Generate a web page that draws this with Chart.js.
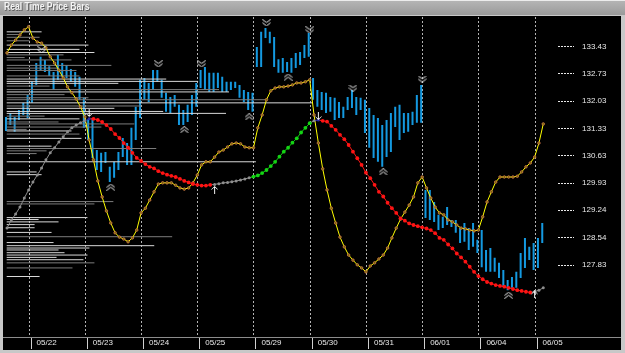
<!DOCTYPE html>
<html>
<head>
<meta charset="utf-8">
<script src="https://cdn.jsdelivr.net/npm/chart.js@4.4.1/dist/chart.umd.min.js"></script>
<style>
    html, body { margin: 0; padding: 0; background: #c4c4c4; }
    #wrap { position: relative; width: 625px; height: 353px; overflow: hidden; }
    #priceChart { display: block; }
    #title {
        position: absolute; left: 4px; top: 1px; height: 14px; line-height: 14px;
        font: bold 10px "Liberation Sans", Arial, sans-serif;
        color: #f4f4f4; text-shadow: 1px 1px 0 #5a5a5a; white-space: nowrap;
        transform: scaleX(0.86); transform-origin: left center;
    }
</style>
</head>
<body>
<div id="wrap">
    <canvas id="priceChart" width="625" height="353"></canvas>
    <div id="title">Real Time Price Bars</div>
</div>
<script>
// ---- data (bar index 0 = first bar of 05/22) ----
var firstBar = -5;

var dayLabels = ['05/22', '05/23', '05/24', '05/25', '05/29', '05/30', '05/31', '06/01', '06/04', '06/05'];
var dayStartBar = [0, 13, 26, 39, 52, 65, 78, 91, 104, 117];

var yTickValues = [133.43, 132.73, 132.03, 131.33, 130.63, 129.93, 129.24, 128.54, 127.83];
var yTickLabels = ['133.43', '132.73', '132.03', '131.33', '130.63', '129.93', '129.24', '128.54', '127.83'];

var barHigh = [
    131.63, 131.73, 131.63, 131.81, 131.99,
    132.19, 132.53, 133.01, 133.17, 133.09, 132.93, 132.78, 133.22, 133.01, 132.96, 132.86, 132.78, 132.66,
    132.12, 131.55, 131.60, 130.78, 130.71, 130.73, 130.35, 130.48, 130.73, 131.09, 130.96, 131.35, 131.89,
    132.58, 132.63, 132.50, 132.83, 132.83, 132.58, 132.25, 132.14, 132.19, 131.94, 131.81, 131.94, 132.19,
    132.50, 132.83, 132.91, 132.76, 132.76, 132.76, 132.66, 132.53, 132.53, 132.53, 132.45, 132.32, 132.27,
    132.25, 133.42, 133.81, 133.91, 133.81, 133.68, 133.11, 133.14, 133.04, 133.14, 133.27, 133.29, 133.47,
    133.78, 132.63, 132.32, 132.27, 132.25, 132.14, 132.12, 132.01, 131.89, 132.14, 132.32, 132.14, 132.12,
    132.07, 131.86, 131.68, 131.60, 131.42, 131.55, 131.73, 131.89, 131.94, 131.73, 131.73, 131.76, 132.19,
    132.45, 129.76, 129.76, 129.45, 129.12, 129.07, 129.32, 128.99, 128.99, 128.78, 128.91, 128.78, 128.91,
    128.48, 128.73, 128.22, 128.27, 128.02, 127.89, 127.71, 127.45, 127.53, 127.66, 128.14, 128.53, 128.30,
    128.40, 128.53, 128.91
];
var barLow = [
    131.27, 131.42, 131.25, 131.55, 131.68,
    131.60, 131.99, 132.45, 132.83, 132.78, 132.68, 132.32, 132.58, 132.66, 132.63, 132.53, 132.40, 132.07,
    131.35, 131.04, 130.58, 130.27, 130.22, 130.45, 129.96, 130.07, 130.27, 130.60, 130.40, 130.40, 131.04,
    131.60, 132.07, 132.01, 132.32, 132.53, 132.12, 131.76, 131.73, 131.89, 131.42, 131.42, 131.50, 131.68,
    131.89, 132.37, 132.32, 132.27, 132.27, 132.37, 132.27, 132.27, 132.32, 132.37, 132.12, 132.01, 131.81,
    131.76, 132.91, 132.91, 133.65, 133.52, 132.91, 132.76, 132.76, 132.78, 132.76, 132.88, 132.96, 133.14,
    133.17, 132.07, 131.89, 131.81, 131.73, 131.76, 131.55, 131.60, 131.60, 131.81, 131.86, 131.68, 131.81,
    131.22, 130.84, 130.58, 130.48, 130.35, 130.60, 130.73, 131.37, 131.04, 131.22, 131.25, 131.42, 131.48,
    131.48, 129.04, 128.99, 128.94, 128.73, 128.78, 128.86, 128.81, 128.66, 128.40, 128.43, 128.22, 128.30,
    128.14, 127.78, 127.66, 127.66, 127.66, 127.50, 127.27, 127.19, 127.25, 127.25, 127.50, 127.76, 127.96,
    127.71, 127.76, 128.40
];

// yellow oscillator line
var yellowLine = [
    133.27, 133.47, 133.60, 133.73, 133.86,
    133.94, 133.65, 133.55, 133.52, 133.40, 133.17, 133.01, 132.83, 132.63, 132.40, 132.25, 132.09, 131.89,
    131.63, 131.04, 130.53, 129.99, 129.58, 129.22, 128.91, 128.66, 128.55, 128.50, 128.43, 128.53, 128.73,
    129.17, 129.29, 129.50, 129.71, 129.91, 129.94, 129.94, 129.94, 129.88, 129.81, 129.78, 129.81, 129.94,
    130.14, 130.40, 130.48, 130.48, 130.60, 130.73, 130.78, 130.86, 130.94, 130.96, 130.94, 130.86, 130.84,
    130.84, 131.35, 131.68, 132.07, 132.30, 132.37, 132.40, 132.40, 132.42, 132.45, 132.50, 132.50, 132.53,
    132.58, 131.68, 130.96, 130.30, 129.76, 129.29, 128.91, 128.55, 128.30, 128.09, 127.96, 127.84, 127.76,
    127.66, 127.81, 127.89, 127.99, 128.09, 128.27, 128.53, 128.78, 129.01, 129.19, 129.37, 129.58, 129.94,
    130.09, 129.81, 129.55, 129.32, 129.17, 129.12, 128.99, 128.94, 128.86, 128.78, 128.76, 128.73, 128.71,
    128.73, 129.07, 129.45, 129.71, 129.96, 130.09, 130.09, 130.09, 130.09, 130.11, 130.22, 130.35, 130.45,
    130.60, 130.96, 131.45
];

// dotted trend line and where its direction changes
var trendLine = [
    128.78, 128.99, 129.14, 129.32, 129.55,
    129.76, 129.96, 130.14, 130.32, 130.53, 130.71, 130.84, 130.99, 131.12, 131.25, 131.35, 131.42, 131.48,
    131.53, 131.58, 131.58, 131.55, 131.50, 131.42, 131.32, 131.19, 131.09, 130.96, 130.84, 130.71, 130.58,
    130.50, 130.42, 130.35, 130.31, 130.24, 130.19, 130.15, 130.12, 130.09, 130.04, 129.99, 129.95, 129.91,
    129.89, 129.87, 129.87, 129.89, 129.90, 129.92, 129.94, 129.95, 129.97, 129.99, 130.01, 130.04, 130.07,
    130.10, 130.13, 130.19, 130.27, 130.37, 130.48, 130.61, 130.74, 130.84, 130.97, 131.08, 131.23, 131.35,
    131.47, 131.53, 131.55, 131.53, 131.51, 131.40, 131.30, 131.17, 131.06, 130.91, 130.74, 130.57, 130.40,
    130.20, 130.06, 129.89, 129.71, 129.59, 129.43, 129.29, 129.17, 129.03, 128.97, 128.90, 128.86, 128.83,
    128.80, 128.77, 128.73, 128.65, 128.53, 128.48, 128.36, 128.26, 128.13, 128.03, 127.92, 127.79, 127.66,
    127.55, 127.47, 127.40, 127.36, 127.32, 127.30, 127.28, 127.25, 127.22, 127.19, 127.17, 127.15, 127.13,
    127.15, 127.19, 127.25
];
var trendTurnBar = [-5, 15, 43, 52, 66, 68, 117];
var trendTurnDir = ['flat', 'down', 'flat', 'up', 'flat', 'down', 'flat'];
var trendPivotBar = [14, 67];

// fractal chevrons and signal arrows
var fractalHighBar = [3, 30, 40, 55, 65, 75, 91];
var fractalHighPrice = [133.35, 132.99, 132.99, 134.04, 133.86, 132.37, 132.60];
var fractalLowBar = [19, 36, 51, 60, 82, 111];
var fractalLowPrice = [129.83, 131.30, 131.63, 132.65, 130.22, 127.06];
var arrowDownBar = [14, 67];
var arrowDownPrice = [131.73, 131.65];
var arrowUpBar = [43, 117];
var arrowUpPrice = [129.76, 127.08];

// volume profile at the left (price level, volume)
var profileLightPrice = [133.81, 133.47, 133.36, 133.28, 132.60, 132.54, 132.49, 132.27, 131.99, 131.85,
    131.77, 131.72, 131.58, 131.27, 131.08, 130.88, 130.48, 130.22, 130.15, 129.05,
    129.00, 128.94, 128.87, 128.79, 128.67, 128.41, 128.33, 128.27, 128.22, 128.15,
    128.09, 128.03, 127.97, 127.54];
var profileLightVolume = [35, 82, 73, 88, 160, 192, 112, 223, 307, 108,
    157, 220, 73, 65, 75, 45, 250, 30, 35, 81,
    32, 52, 28, 28, 45, 47, 148, 83, 52, 58,
    81, 50, 77, 33];
var profileDarkPrice = [133.74, 133.67, 133.58, 133.22, 133.15, 133.09, 132.95, 132.88, 132.82, 132.68,
    132.42, 132.33, 132.20, 132.12, 132.07, 131.91, 131.65, 131.50, 131.45, 131.37,
    131.31, 131.19, 130.82, 130.76, 130.69, 129.46, 129.40, 128.56, 127.89, 127.76];
var profileDarkVolume = [12, 33, 23, 57, 18, 65, 105, 52, 70, 73,
    43, 213, 58, 82, 260, 135, 38, 52, 128, 95,
    20, 73, 150, 40, 30, 107, 88, 166, 88, 66];

// ---- helpers ----
function trendDirAt(bar) {
    var dir = trendTurnDir[0];
    for (var k = 0; k < trendTurnBar.length; k++) {
        if (trendTurnBar[k] <= bar) dir = trendTurnDir[k];
    }
    return dir;
}

function trendColor(bar) {
    if (trendPivotBar.indexOf(bar) !== -1) return '#2a2aa8';
    var d = trendDirAt(bar);
    if (d === 'down') return '#ff1414';
    if (d === 'up') return '#14d414';
    return '#8e8e8e';
}

function seriesPoints(values) {
    var pts = [];
    for (var k = 0; k < values.length; k++) {
        pts.push({ x: firstBar + k, y: values[k] });
    }
    return pts;
}

function barPoints() {
    var pts = [];
    for (var k = 0; k < barHigh.length; k++) {
        pts.push({ x: firstBar + k, y: [barLow[k], barHigh[k]] });
    }
    return pts;
}

function profilePoints(prices, volumes) {
    var pts = [];
    for (var k = 0; k < prices.length; k++) {
        pts.push({ x: 0, y: prices[k] });
        pts.push({ x: volumes[k], y: prices[k] });
        pts.push({ x: 0, y: null });
    }
    return pts;
}

function markerPoints(bars, prices) {
    var pts = [];
    for (var k = 0; k < bars.length; k++) {
        pts.push({ x: bars[k], y: prices[k] });
    }
    return pts;
}

function glyph(w, h, path) {
    var c = document.createElement('canvas');
    c.width = w;
    c.height = h;
    var g = c.getContext('2d');
    g.strokeStyle = '#f0f0f0';
    g.lineWidth = 1;
    g.beginPath();
    path(g);
    g.stroke();
    return c;
}

var chevronsDown = glyph(9, 7, function (g) {
    g.moveTo(0.5, 0.5); g.lineTo(4.5, 3); g.lineTo(8.5, 0.5);
    g.moveTo(0.5, 3.5); g.lineTo(4.5, 6.5); g.lineTo(8.5, 3.5);
});
var chevronsUp = glyph(9, 7, function (g) {
    g.moveTo(0.5, 3.5); g.lineTo(4.5, 0.5); g.lineTo(8.5, 3.5);
    g.moveTo(0.5, 6.5); g.lineTo(4.5, 3.5); g.lineTo(8.5, 6.5);
});
var arrowDown = glyph(7, 8, function (g) {
    g.moveTo(3.5, 0); g.lineTo(3.5, 7.5);
    g.moveTo(0.5, 4.5); g.lineTo(3.5, 7.5); g.lineTo(6.5, 4.5);
});
var arrowUp = glyph(7, 8, function (g) {
    g.moveTo(3.5, 8); g.lineTo(3.5, 0.5);
    g.moveTo(0.5, 3.5); g.lineTo(3.5, 0.5); g.lineTo(6.5, 3.5);
});

function markerSet(bars, prices, style) {
    return {
        type: 'line',
        showLine: false,
        data: markerPoints(bars, prices),
        pointStyle: style,
        pointRadius: 4,
        pointHoverRadius: 4,
        borderWidth: 0
    };
}

// frame, day grid and the cells under the dates
var chartFrame = {
    id: 'chartFrame',
    beforeDraw: function (chart) {
        var c = chart.ctx;
        var w = chart.width, h = chart.height;
        var area = chart.chartArea;
        var xs = chart.scales.x;
        c.save();
        c.fillStyle = '#c8c8c8';
        c.fillRect(0, 0, w, h);
        var g = c.createLinearGradient(0, 0, 0, 15);
        g.addColorStop(0, '#b6b6b6');
        g.addColorStop(1, '#9a9a9a');
        c.fillStyle = g;
        c.fillRect(0, 0, w, 15);
        c.fillStyle = '#ececec';
        c.fillRect(0, 0, w, 1);
        c.fillStyle = '#000000';
        c.fillRect(3, 16, w - 7, h - 19);
        c.fillStyle = '#8c8c8c';
        c.fillRect(3, Math.round(area.bottom), w - 7, 1);
        c.strokeStyle = '#d0d0d0';
        c.lineWidth = 1;
        c.beginPath();
        for (var k = 0; k < dayStartBar.length; k++) {
            var px = Math.round(xs.getPixelForValue(dayStartBar[k])) + 2.5;
            c.moveTo(px, area.bottom + 1);
            c.lineTo(px, h - 4);
        }
        c.stroke();
        c.restore();
    },
    beforeDatasetsDraw: function (chart) {
        var c = chart.ctx;
        var area = chart.chartArea;
        var xs = chart.scales.x;
        c.save();
        c.strokeStyle = '#b4b4b4';
        c.lineWidth = 1;
        c.setLineDash([2, 2]);
        c.beginPath();
        for (var k = 0; k < dayStartBar.length; k++) {
            var px = Math.round(xs.getPixelForValue(dayStartBar[k])) + 0.5;
            c.moveTo(px, area.top);
            c.lineTo(px, area.bottom);
        }
        c.stroke();
        c.restore();
    }
};

var ctx = document.getElementById('priceChart').getContext('2d');
new Chart(ctx, {
    type: 'bar',
    data: {
        datasets: [
            markerSet(fractalHighBar, fractalHighPrice, chevronsDown),
            markerSet(fractalLowBar, fractalLowPrice, chevronsUp),
            markerSet(arrowDownBar, arrowDownPrice, arrowDown),
            markerSet(arrowUpBar, arrowUpPrice, arrowUp),
            {
                type: 'line',
                data: seriesPoints(trendLine),
                borderColor: '#8e8e8e',
                borderWidth: 1,
                pointRadius: function (c) { return trendDirAt(firstBar + c.dataIndex) === 'flat' ? 1.5 : 1.9; },
                pointBorderWidth: 0,
                pointBackgroundColor: function (c) { return trendColor(firstBar + c.dataIndex); },
                segment: {
                    borderColor: function (c) { return trendColor(firstBar + c.p1DataIndex); }
                }
            },
            {
                type: 'line',
                data: seriesPoints(yellowLine),
                borderColor: '#ffff00',
                borderWidth: 1,
                pointRadius: 1.3,
                pointBorderWidth: 0.7,
                pointBorderColor: '#e07a50',
                pointBackgroundColor: '#707000'
            },
            {
                type: 'line',
                xAxisID: 'xv',
                data: profilePoints(profileLightPrice, profileLightVolume),
                borderColor: '#d8d8d8',
                borderWidth: 1,
                pointRadius: 0
            },
            {
                type: 'line',
                xAxisID: 'xv',
                data: profilePoints(profileDarkPrice, profileDarkVolume),
                borderColor: '#7c7c7c',
                borderWidth: 1,
                pointRadius: 0
            },
            {
                type: 'bar',
                data: barPoints(),
                backgroundColor: '#1499e0',
                borderWidth: 0,
                inflateAmount: 0,
                barThickness: 2
            }
        ]
    },
    options: {
        responsive: false,
        devicePixelRatio: 1,
        animation: false,
        events: [],
        layout: { padding: { left: 3, right: 4, top: 17, bottom: 3 } },
        plugins: { legend: { display: false }, tooltip: { enabled: false } },
        scales: {
            x: {
                type: 'linear',
                min: -5.53,
                max: 122.41,
                offset: false,
                afterBuildTicks: function (s) {
                    s.ticks = dayStartBar.map(function (v) { return { value: v }; });
                },
                afterFit: function (s) { s.height = 13; },
                border: { display: false },
                grid: { display: false, drawTicks: false },
                ticks: {
                    color: '#e8e8e8',
                    font: { family: 'Liberation Sans', size: 8 },
                    padding: 1,
                    align: 'start',
                    labelOffset: 8,
                    autoSkip: false,
                    maxRotation: 0,
                    minRotation: 0,
                    callback: function (v, idx) { return dayLabels[idx]; }
                }
            },
            xv: {
                type: 'linear',
                axis: 'x',
                position: 'bottom',
                display: false,
                min: -2,
                max: 553,
                offset: false
            },
            y: {
                position: 'right',
                min: 125.99,
                max: 134.19,
                afterBuildTicks: function (s) {
                    s.ticks = yTickValues.map(function (v) { return { value: v }; });
                },
                afterFit: function (s) { s.width = 63; },
                border: { display: false },
                grid: {
                    drawOnChartArea: false,
                    drawTicks: true,
                    tickLength: 16,
                    tickWidth: 1,
                    tickColor: '#e8e8e8',
                    tickBorderDash: [2, 1]
                },
                ticks: {
                    color: '#e8e8e8',
                    font: { family: 'Liberation Sans', size: 8 },
                    padding: 8,
                    callback: function (v, idx) { return yTickLabels[idx]; }
                }
            }
        }
    },
    plugins: [chartFrame]
});
</script>
</body>
</html>
